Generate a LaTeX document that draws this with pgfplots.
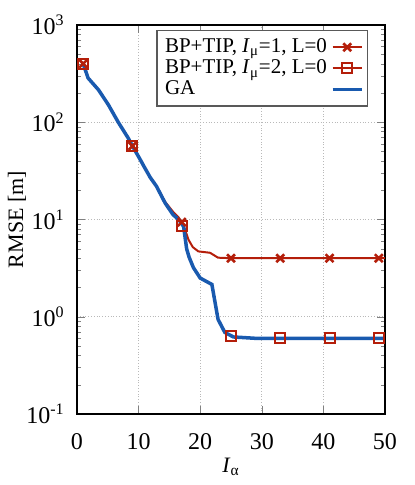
\documentclass[border=0pt]{standalone}
\usepackage{fontspec}
\setmainfont{Liberation Serif}
\usepackage{pgfplots}
\pgfplotsset{compat=1.18}
\definecolor{bpred}{RGB}{180,30,10}
\definecolor{gablue}{RGB}{25,90,175}
\begin{document}
\fontsize{10.5}{12.6}\selectfont
\begin{tikzpicture}
\begin{semilogyaxis}[
  scale only axis, width=154pt, height=194.5pt,
  xmin=0, xmax=50, ymin=0.1, ymax=1000,
  xtick={0,10,20,30,40,50},
  ytick={0.1,1,10,100,1000},
  yticklabels={10\textsuperscript{-1},10\textsuperscript{0},10\textsuperscript{1},10\textsuperscript{2},10\textsuperscript{3}},
  /pgf/number format/assume math mode=true,
  ticklabel style={font=\fontsize{12}{14}\selectfont},
  xticklabel style={yshift=-6pt},
  yticklabel style={xshift=-2.5pt},
  tick align=inside,
  major tick length=4pt, minor tick length=2pt,
  axis line style={line width=1pt},
  grid=major, major grid style={densely dotted, gray!55, line width=0.5pt},
  xlabel={\textit{I}\textsubscript{α}}, ylabel={RMSE [m]},
  label style={font=\fontsize{11}{13}\selectfont},
  xlabel style={at={(axis description cs:0.5,-0.135)}, anchor=center},
  ylabel style={at={(axis description cs:-0.195,0.5)}, anchor=center},
  legend style={at={(0.945,0.987)}, anchor=north east, draw=gray!70!black, line width=0.6pt, fill=white, row sep=-2pt, inner sep=2pt, cells={anchor=west}, font=\fontsize{10.5}{12}\selectfont},
  legend plot pos=right,
  legend image code/.code={\draw[mark repeat=2,mark phase=2,#1] plot coordinates {(0pt,0pt)(7.25pt,0pt)(14.5pt,0pt)};},
]
\coordinate (bl) at (rel axis cs:-0.25,-0.1825);
\coordinate (tr) at (rel axis cs:1.0974,1.0643);
\addlegendimage{bpred, line width=1pt, mark=x, mark size=2.8pt, mark options={line width=1.3pt}}
\addlegendentry{BP+TIP, \textit{I}\textsubscript{μ}=1, L=0}
\addlegendimage{bpred, line width=1pt, mark=square, mark size=2.5pt, mark options={line width=1pt}}
\addlegendentry{BP+TIP, \textit{I}\textsubscript{μ}=2, L=0}
\addlegendimage{gablue, line width=1.75pt}
\addlegendentry{GA}
% BP+TIP I_mu=1 line
\addplot[bpred, line width=1pt, forget plot] coordinates {
(1,400)(1.8,285)(3.5,215)(5.1,151)(6.7,100)(8.3,69)(9,57)(10.2,42)(11,34)(11.9,27)(12.9,22)(14.3,15.2)(15.6,12)(16.5,10.5)(17,9.4)(17.5,8)(18.1,6.2)(18.8,5.2)(19.7,4.7)(21.6,4.55)(22.9,4.05)(25,4)(33,4)(41,4)(50,4)};
% BP+TIP I_mu=2 line
\addplot[bpred, line width=1pt, forget plot] coordinates {
(1,400)(1.8,285)(3.5,215)(5.1,151)(6.7,100)(8.3,69)(9,57)(10.2,42)(11,34)(11.9,27)(12.9,22)(14.3,14.8)(15.6,11.2)(16.5,10)(17.3,8.5)(17.8,5)(18.2,4.1)(18.9,3.2)(20,2.5)(21.9,2.15)(22.9,0.94)(24,0.69)(25.4,0.62)(29,0.6)(50,0.6)};
% GA
\addplot[gablue, line width=1.75pt, forget plot] coordinates {
(1,400)(1.8,285)(3.5,215)(5.1,151)(6.7,100)(8.3,69)(9,57)(10.2,42)(11,34)(11.9,27)(12.9,22)(14.3,14.8)(15.6,11.2)(16.5,10)(17.3,8.5)(17.8,5)(18.2,4.1)(18.9,3.2)(20,2.5)(21.9,2.15)(22.9,0.94)(24,0.69)(25.4,0.62)(29,0.6)(50,0.6)};
% markers
\addplot[bpred, only marks, mark=x, mark size=2.8pt, mark options={line width=1.3pt}, forget plot] coordinates {
(1,400)(9,57)(17,9.4)(25,4)(33,4)(41,4)(49,4)};
\addplot[bpred, only marks, mark=square, mark size=2.5pt, mark options={line width=1pt}, forget plot] coordinates {
(1,400)(9,57)(17,8.5)(25,0.63)(33,0.6)(41,0.6)(49,0.6)};
\end{semilogyaxis}
\pgfresetboundingbox
\path[use as bounding box] (bl) rectangle (tr);
\end{tikzpicture}
\end{document}
